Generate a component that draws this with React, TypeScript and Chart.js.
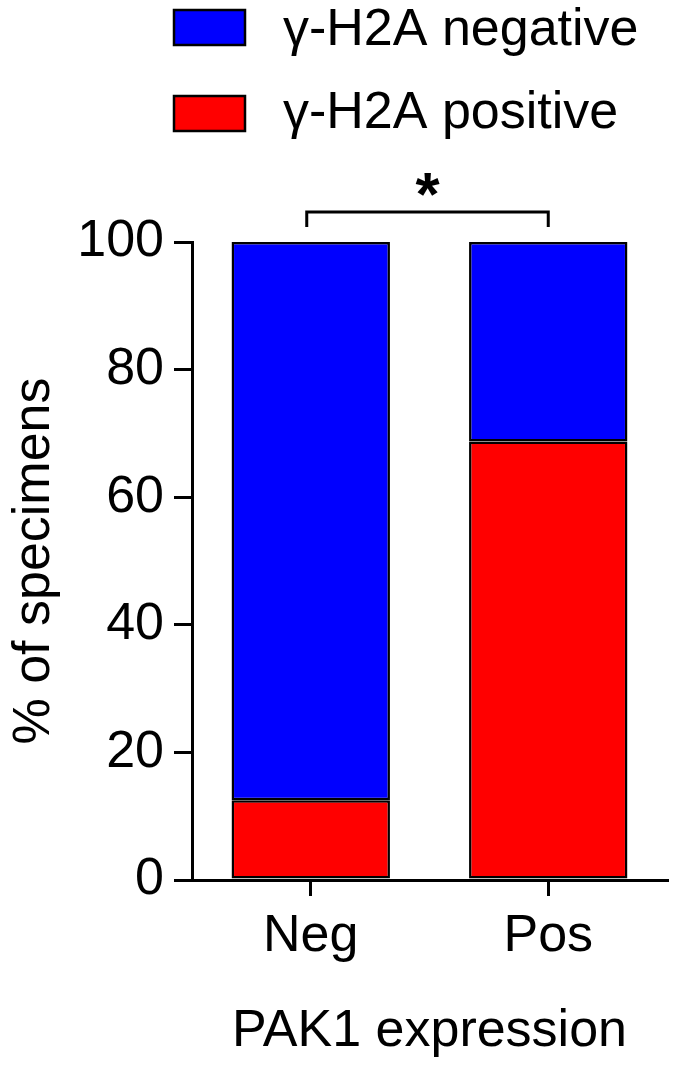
import React, { useEffect, useRef } from 'react';
import { Chart, registerables } from 'chart.js';

Chart.register(...registerables);

const categories = ['Neg', 'Pos'];
const negativeValues = [87.5, 31.25];
const positiveValues = [12.5, 68.75];
const seriesLabels = ['γ-H2A negative', 'γ-H2A positive'];
const seriesColors = ['#0000FF', '#FF0000'];
const yTicks = [0, 20, 40, 60, 80, 100];
const xTitle = 'PAK1 expression';
const yTitle = '% of specimens';
const significanceLabel = '*';

const FAMILY = '"Liberation Sans", Arial, Helvetica, sans-serif';
const FS = 52;

const annotatePlugin = {
  id: 'annotate',
  afterDraw(chart: any) {
    const ctx = chart.ctx as CanvasRenderingContext2D;
    const xs = chart.scales.x;
    const ys = chart.scales.y;
    ctx.save();
    // legend (top to bottom: negative, positive)
    const ds = chart.data.datasets.slice().reverse();
    const boxTops = [10, 96];
    const textMids = [31, 114];
    ds.forEach((d: any, i: number) => {
      const top = boxTops[i];
      ctx.fillStyle = d.backgroundColor;
      ctx.fillRect(174, top, 71, 35);
      ctx.lineWidth = 2.5;
      ctx.strokeStyle = '#000';
      ctx.strokeRect(174, top, 71, 35);
      ctx.fillStyle = '#000';
      ctx.font = `${FS}px ${FAMILY}`;
      ctx.textBaseline = 'middle';
      ctx.textAlign = 'left';
      ctx.fillText(d.label, 283, textMids[i]);
    });
    // significance bracket
    const x0 = xs.getPixelForValue(0) - 4;
    const x1 = xs.getPixelForValue(1);
    const yTop = ys.getPixelForValue(100);
    const yl = yTop - 30;
    const yd = yTop - 15;
    ctx.beginPath();
    ctx.moveTo(x0, yd);
    ctx.lineTo(x0, yl);
    ctx.lineTo(x1, yl);
    ctx.lineTo(x1, yd);
    ctx.lineWidth = 3;
    ctx.strokeStyle = '#000';
    ctx.stroke();
    ctx.font = `bold 62px ${FAMILY}`;
    ctx.textAlign = 'center';
    ctx.textBaseline = 'alphabetic';
    const m = ctx.measureText(significanceLabel);
    const cy = yl - 28;
    const base = cy + (m.actualBoundingBoxAscent - m.actualBoundingBoxDescent) / 2;
    ctx.fillStyle = '#000';
    ctx.fillText(significanceLabel, (x0 + x1) / 2, base);
    ctx.restore();
  },
};

export default function App() {
  const ref = useRef<HTMLCanvasElement | null>(null);
  useEffect(() => {
    if (!ref.current) return;
    const chart = new Chart(ref.current, {
      type: 'bar',
      data: {
        labels: categories,
        datasets: [
          {
            label: seriesLabels[1],
            data: positiveValues,
            backgroundColor: seriesColors[1],
            borderColor: '#000',
            borderWidth: 2.5,
            borderSkipped: false,
            barPercentage: 1,
            categoryPercentage: 0.667,
          },
          {
            label: seriesLabels[0],
            data: negativeValues,
            backgroundColor: seriesColors[0],
            borderColor: '#000',
            borderWidth: 2.5,
            borderSkipped: false,
            barPercentage: 1,
            categoryPercentage: 0.667,
          },
        ],
      },
      options: {
        responsive: false,
        animation: false,
        layout: { padding: { left: 0, right: 7, top: 242, bottom: 0 } },
        plugins: { legend: { display: false }, tooltip: { enabled: false } },
        scales: {
          x: {
            stacked: true,
            grid: {
              display: true,
              offset: false,
              drawOnChartArea: false,
              drawTicks: true,
              tickLength: 16,
              color: '#000',
              lineWidth: 3,
            },
            border: { display: true, color: '#000', width: 3 },
            ticks: { color: '#000', font: { size: FS, family: FAMILY }, padding: 9 },
            title: {
              display: true,
              text: xTitle,
              color: '#000',
              font: { size: FS, family: FAMILY },
              padding: { top: 0, bottom: 2 },
            },
            afterFit: (s: any) => {
              s.height = 185;
            },
          },
          y: {
            stacked: true,
            min: 0,
            max: 100,
            afterBuildTicks: (s: any) => {
              s.ticks = yTicks.map((v) => ({ value: v }));
            },
            grid: {
              display: true,
              drawOnChartArea: false,
              drawTicks: true,
              tickLength: 18,
              color: '#000',
              lineWidth: 3,
            },
            border: { display: true, color: '#000', width: 3 },
            ticks: { color: '#000', font: { size: FS, family: FAMILY }, padding: 10 },
            title: {
              display: true,
              text: yTitle,
              color: '#000',
              font: { size: FS, family: FAMILY },
              padding: { top: 3, bottom: 0 },
            },
            afterFit: (s: any) => {
              s.width = 192;
            },
          },
        },
      },
      plugins: [annotatePlugin],
    });
    return () => chart.destroy();
  }, []);
  return (
    <div style={{ position: 'fixed', left: 0, top: 0, width: 674, height: 1065, background: '#fff' }}>
      <canvas ref={ref} width={674} height={1065} style={{ display: 'block' }} />
    </div>
  );
}
